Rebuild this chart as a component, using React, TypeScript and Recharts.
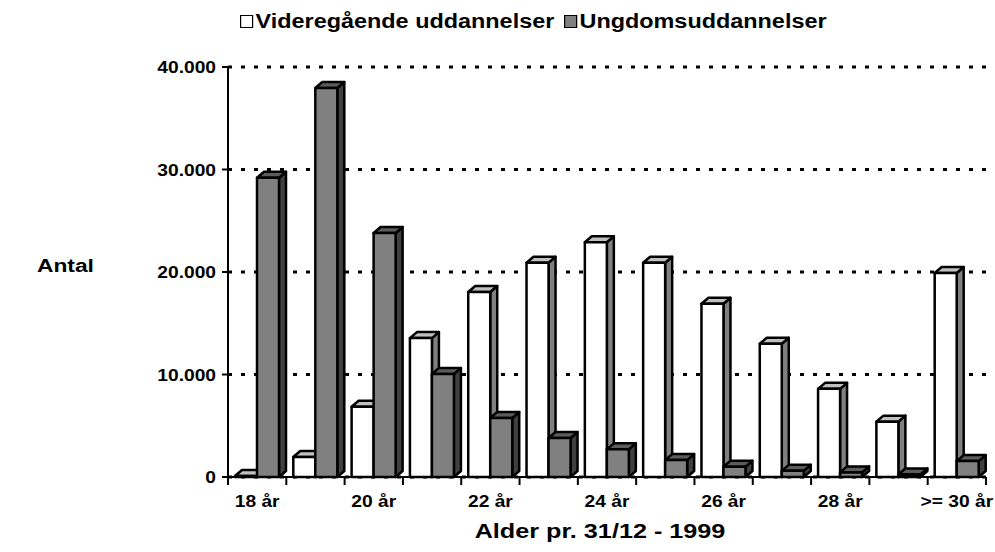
import React from "react";
import { BarChart, Bar, XAxis, YAxis, CartesianGrid } from "recharts";

const ages = [
  "18 år", "19 år", "20 år", "21 år", "22 år", "23 år", "24 år",
  "25 år", "26 år", "27 år", "28 år", "29 år", ">= 30 år",
];
const videregaende = [100, 1950, 6850, 13550, 18050, 20900, 22900, 20900, 16900, 13000, 8600, 5400, 19900];
const ungdom = [29200, 37950, 23800, 10050, 5750, 3800, 2700, 1650, 1000, 600, 450, 250, 1550];
const yTicks = [0, 10000, 20000, 30000, 40000];

const data = ages.map((age, i) => ({ age, vid: videregaende[i], ung: ungdom[i] }));

const W = 995;
const H = 552;
const PLOT_LEFT = 228;
const PLOT_RIGHT = 986;
const PLOT_TOP = 67;
const PLOT_BOTTOM = 477;
const X_AXIS_H = 30;
const Y_AXIS_W = 80;
const BAND = (PLOT_RIGHT - PLOT_LEFT) / ages.length;
const STRETCH = 1.2;
const FONT = "'Liberation Sans', Arial, sans-serif";
const DX = 7;
const DY = 6;

const fmt = (v: number) => (v === 0 ? "0" : v.toLocaleString("de-DE"));

function Wide({ x, y, size, anchor, children }: any) {
  return (
    <text
      transform={`translate(${x},${y}) scale(${STRETCH},1)`}
      textAnchor={anchor}
      fontFamily={FONT}
      fontWeight="bold"
      fontSize={size}
      fill="#000"
    >
      {children}
    </text>
  );
}

const YTick = (props: any) => {
  const { x, y, payload } = props;
  return (
    <Wide x={x} y={y + 6} size={16} anchor="end">
      {fmt(payload.value)}
    </Wide>
  );
};

const XTick = (props: any) => {
  const { x, payload, index } = props;
  const i = payload?.index ?? index;
  const half = BAND / 2;
  return (
    <g>
      <line x1={x - half} x2={x - half} y1={PLOT_BOTTOM} y2={PLOT_BOTTOM + 8} stroke="#000" strokeWidth={2} />
      {i === ages.length - 1 && (
        <line x1={x + half} x2={x + half} y1={PLOT_BOTTOM} y2={PLOT_BOTTOM + 8} stroke="#000" strokeWidth={2} />
      )}
      {i % 2 === 0 && (
        <Wide x={x} y={PLOT_BOTTOM + 30} size={16} anchor="middle">
          {payload.value}
        </Wide>
      )}
    </g>
  );
};

const box = (front: string, top: string, side: string) => (props: any) => {
  const { x, y, width, height } = props;
  if (width == null || height == null) return null;
  const r = x + width;
  const b = y + height;
  return (
    <g stroke="#000" strokeWidth={2.5} strokeLinejoin="round">
      <path d={`M${r},${y} L${r + DX},${y - DY} L${r + DX},${b - DY} L${r},${b} Z`} fill={side} />
      <path d={`M${x},${y} L${x + DX},${y - DY} L${r + DX},${y - DY} L${r},${y} Z`} fill={top} />
      <rect x={x} y={y} width={width} height={height} fill={front} />
    </g>
  );
};

const whiteBox = box("#ffffff", "#c0c0c0", "#808080");
const grayBox = box("#808080", "#5c5c5c", "#404040");

function LegendItem({ color, label }: { color: string; label: string }) {
  return (
    <span style={{ display: "inline-flex", alignItems: "center", marginRight: 8 }}>
      <span
        style={{
          display: "inline-block",
          width: 11,
          height: 13,
          border: "1.5px solid #000",
          background: color,
          marginRight: 2,
          boxSizing: "border-box",
        }}
      />
      <span>{label}</span>
    </span>
  );
}

export default function App() {
  return (
    <div style={{ position: "absolute", left: 0, top: 0, width: W, height: H, background: "#fff" }}>
      <BarChart
        width={W}
        height={H}
        data={data}
        margin={{
          top: PLOT_TOP,
          right: W - PLOT_RIGHT,
          bottom: H - PLOT_BOTTOM - X_AXIS_H,
          left: PLOT_LEFT - Y_AXIS_W,
        }}
        barSize={22}
        barGap={0}
      >
        <CartesianGrid vertical={false} stroke="#000" strokeWidth={3} strokeDasharray="4 9" />
        <XAxis
          dataKey="age"
          height={X_AXIS_H}
          interval={0}
          tickLine={false}
          axisLine={{ stroke: "#000", strokeWidth: 2 }}
          tick={<XTick />}
        />
        <YAxis
          width={Y_AXIS_W}
          domain={[0, 40000]}
          ticks={yTicks}
          interval={0}
          tickSize={6}
          tickMargin={6}
          tickLine={{ stroke: "#000", strokeWidth: 2 }}
          axisLine={{ stroke: "#000", strokeWidth: 2 }}
          tick={<YTick />}
        />
        <Bar dataKey="vid" name="Videregående uddannelser" shape={whiteBox} isAnimationActive={false} />
        <Bar dataKey="ung" name="Ungdomsuddannelser" shape={grayBox} isAnimationActive={false} />
      </BarChart>

      <div
        style={{
          position: "absolute",
          left: 240,
          top: 10,
          whiteSpace: "nowrap",
          fontFamily: FONT,
          fontWeight: "bold",
          fontSize: 19.5,
          transform: `scaleX(${STRETCH})`,
          transformOrigin: "left top",
        }}
      >
        <LegendItem color="#ffffff" label="Videregående uddannelser" />
        <LegendItem color="#808080" label="Ungdomsuddannelser" />
      </div>

      <svg width={W} height={H} style={{ position: "absolute", left: 0, top: 0, pointerEvents: "none" }}>
        <Wide x={37} y={272} size={19} anchor="start">Antal</Wide>
        <Wide x={600} y={538} size={21} anchor="middle">Alder pr. 31/12 - 1999</Wide>
      </svg>
    </div>
  );
}
